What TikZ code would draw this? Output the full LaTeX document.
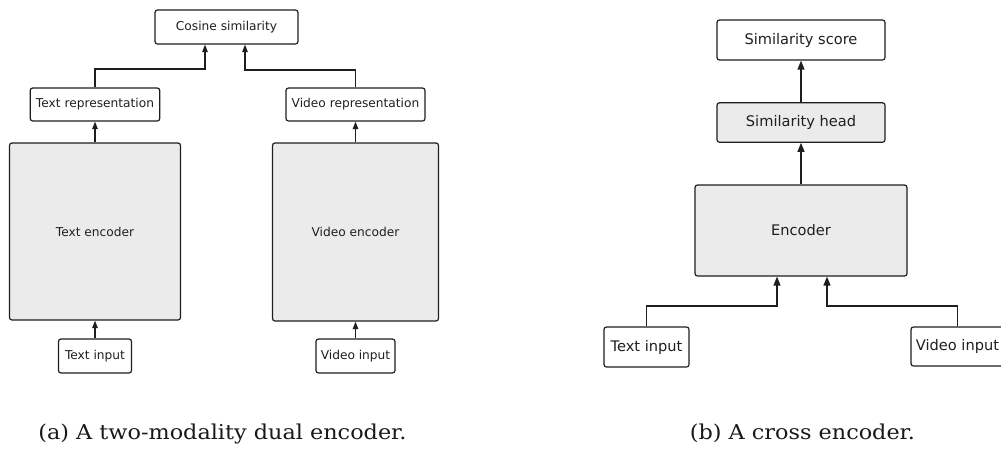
\documentclass[tikz,border=0pt]{standalone}
\usepackage{fontspec}
\setmainfont{DejaVu Serif}
\newfontfamily\boxfont{DejaVu Sans}
\usetikzlibrary{arrows.meta}
\definecolor{edge}{HTML}{1E1E1E}
\definecolor{panel}{HTML}{EBEBEB}

\begin{document}
\begin{tikzpicture}[x=1pt,y=-1pt,
  box/.style={draw=edge, line width=1.2pt, rounded corners=2.5pt, inner sep=0pt,
              align=center, text=black!88, fill=white},
  gbox/.style={box, fill=panel},
  small/.style={font=\boxfont\fontsize{12.2}{14}\selectfont},
  big/.style={font=\boxfont\fontsize{14.6}{17}\selectfont},
  arr/.style={draw=edge, line width=1.2pt, -{Triangle[length=7.5pt,width=5.5pt]}},
  bigarr/.style={draw=edge, line width=1.3pt, -{Triangle[length=9pt,width=7pt]}},
  captext/.style={font=\fontsize{20.5}{24}\selectfont, anchor=base, inner sep=0pt, text=black!90}]
\useasboundingbox (0,0) rectangle (1001,448);

% ---- (a) dual encoder ----
\node[box,small,minimum width=143pt,minimum height=34pt] (cos) at (226.5,27) {Cosine similarity};
\node[box,small,minimum width=129.5pt,minimum height=33pt] (trep) at (95,104.5) {Text representation};
\node[box,small,minimum width=139pt,minimum height=33pt] (vrep) at (355.5,104.5) {Video representation};
\node[gbox,small,minimum width=171pt,minimum height=177pt] (tenc) at (95,231.5) {Text encoder};
\node[gbox,small,minimum width=166pt,minimum height=178pt] (venc) at (355.5,232) {Video encoder};
\node[box,small,minimum width=73pt,minimum height=34pt] (tin) at (95,356) {Text input};
\node[box,small,minimum width=79pt,minimum height=34pt] (vin) at (355.5,356) {Video input};

\draw[arr] (tin.north) -- (tenc.south);
\draw[arr] (vin.north) -- (venc.south);
\draw[arr] (tenc.north) -- (trep.south);
\draw[arr] (venc.north) -- (vrep.south);
\coordinate (tb) at (205,69);
\coordinate (vb) at (245,70);
\draw[arr] (trep.north) |- (tb) -- (tb |- cos.south);
\draw[arr] (vrep.north) |- (vb) -- (vb |- cos.south);

% ---- (b) cross encoder ----
\node[box,big,minimum width=168pt,minimum height=40pt] (score) at (801,40) {Similarity score};
\node[gbox,big,minimum width=168pt,minimum height=39.5pt] (head) at (801,122.5) {Similarity head};
\node[gbox,big,minimum width=212pt,minimum height=91pt] (enc) at (801,230.5) {Encoder};
\node[box,big,minimum width=85pt,minimum height=40pt] (tin2) at (646.5,347) {Text input};
\node[box,big,minimum width=93pt,minimum height=39pt] (vin2) at (957.5,346.5) {Video input};

\draw[bigarr] (head.north) -- (score.south);
\draw[bigarr] (enc.north) -- (head.south);
\coordinate (ta) at (777,306);
\coordinate (va) at (827,306);
\draw[bigarr] (tin2.north) |- (ta) -- (ta |- enc.south);
\draw[bigarr] (vin2.north) |- (va) -- (va |- enc.south);

% ---- captions ----
\node[captext] (capa) at (222.5,439) {\scalebox{1.09}[1]{(a) A two-modality dual encoder.}};
\node[captext] (capb) at (802.5,439) {\scalebox{1.09}[1]{(b) A cross encoder.}};
\end{tikzpicture}
\end{document}
